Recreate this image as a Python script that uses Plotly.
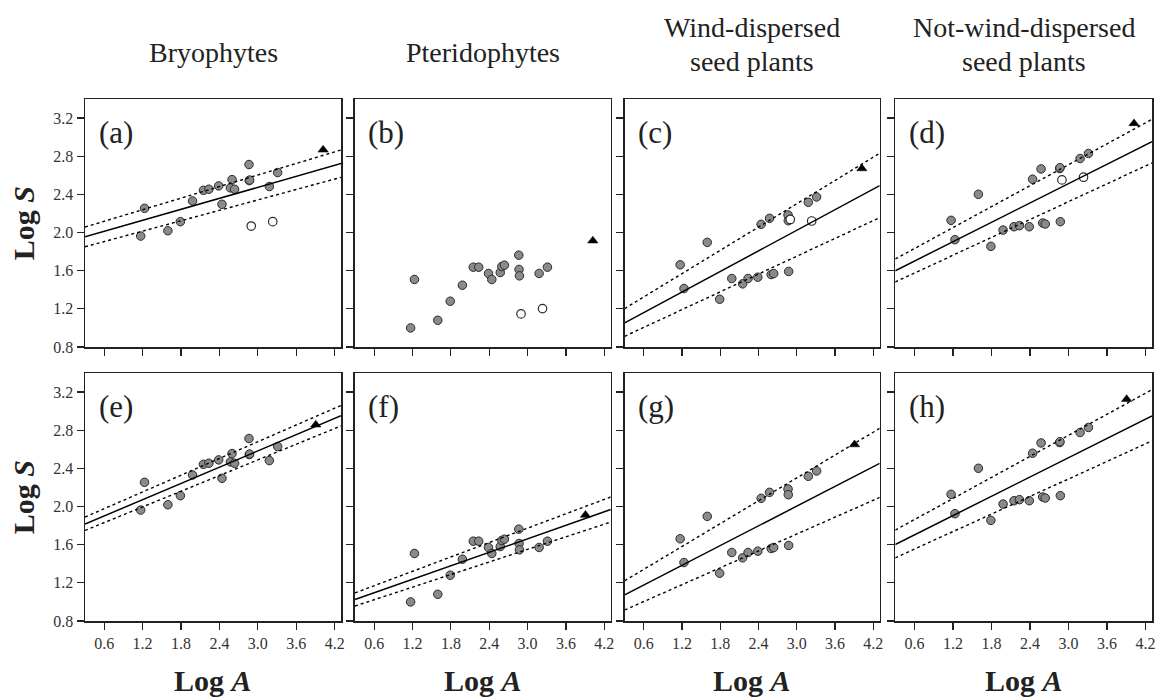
import numpy as np
import plotly.graph_objects as go

# ---------------- data ----------------
log_area = [1.17, 1.23, 1.595, 1.79, 1.98, 2.15, 2.235, 2.388, 2.44, 2.572,
            2.597, 2.637, 2.862, 2.866, 2.872, 3.18, 3.31]
bryo_S = [1.963, 2.254, 2.019, 2.114, 2.331, 2.443, 2.454, 2.489, 2.296, 2.468,
          2.555, 2.454, 2.713, 2.545, 2.55, 2.482, 2.629]
pter_S = [1.000, 1.508, 1.080, 1.280, 1.448, 1.637, 1.637, 1.571, 1.508, 1.581,
          1.644, 1.658, 1.763, 1.613, 1.546, 1.571, 1.637]
wind_S = [1.662, 1.413, 1.897, 1.301, 1.518, 1.462, 1.518, 1.532, 2.086, 2.149,
          1.560, 1.570, 2.184, 2.124, 1.592, 2.317, 2.373]
nonwind_S = [2.128, 1.925, 2.401, 1.855, 2.026, 2.061, 2.072, 2.061, 2.559, 2.667,
             2.100, 2.089, 2.671, 2.680, 2.114, 2.776, 2.829]

# open circles (excluded islands), top row only
open_area = [2.897, 3.233]
bryo_open = [2.068, 2.114]
pter_open = [1.147, 1.203]
wind_open = [2.137, 2.121]
nonwind_open = [2.552, 2.580]

# triangles (mainland)
tri_area_top = 4.02
tri_area_bottom = 3.905
tri_top_S = [2.867, 1.914, 2.671, 3.144]
tri_bottom_S = [2.857, 1.911, 2.650, 3.126]

# regression lines: (intercept, slope) for fit, upper, lower
lines = {
    "a": [(1.898, 0.192), (1.997, 0.202), (1.796, 0.182)],
    "b": None,
    "c": [(0.944, 0.360), (1.081, 0.407), (0.819, 0.311)],
    "d": [(1.498, 0.3385), (1.613, 0.366), (1.388, 0.312)],
    "e": [(1.731, 0.284), (1.802, 0.2925), (1.667, 0.274)],
    "f": [(0.954, 0.236), (1.019, 0.2515), (0.891, 0.220)],
    "g": [(0.971, 0.3445), (1.102, 0.3995), (0.827, 0.295)],
    "h": [(1.501, 0.337), (1.643, 0.368), (1.370, 0.3065)],
}

col_titles = [["Bryophytes"], ["Pteridophytes"],
              ["Wind-dispersed", "seed plants"], ["Not-wind-dispersed", "seed plants"]]
panel_letters = ["a", "b", "c", "d", "e", "f", "g", "h"]
x_ticks = [0.6, 1.2, 1.8, 2.4, 3.0, 3.6, 4.2]
y_ticks = [0.8, 1.2, 1.6, 2.0, 2.4, 2.8, 3.2]
x_range = [0.3, 4.3]
y_range = [0.8, 3.4]

# ---------------- layout geometry ----------------
W, H = 1161, 697
ML, MR, MT, MB = 85, 5, 99, 76
PW, PH = W - ML - MR, H - MT - MB
col_px = [(85, 342), (356, 612.7), (626.7, 882.7), (898.3, 1156)]
row_px = [(99, 347), (373, 621)]

FONT = "Liberation Serif"
GREY = "#8a8a8a"
EDGE = "#2a2a2a"

fig = go.Figure()
layout = dict(
    width=W, height=H, paper_bgcolor="white", plot_bgcolor="white",
    margin=dict(l=ML, r=MR, t=MT, b=MB), showlegend=False,
    font=dict(family=FONT, color="#222"),
)
annotations = []

series_top = [bryo_S, pter_S, wind_S, nonwind_S]
series_open = [bryo_open, pter_open, wind_open, nonwind_open]

idx = 0
for r in range(2):
    for c in range(4):
        idx += 1
        xa = "x" if idx == 1 else f"x{idx}"
        ya = "y" if idx == 1 else f"y{idx}"
        letter = panel_letters[idx - 1]
        x0, x1 = col_px[c]
        y0, y1 = row_px[r]
        xdom = [(x0 - ML) / PW, (x1 - ML) / PW]
        ydom = [(H - MB - y1) / PH, (H - MB - y0) / PH]
        # markers
        fig.add_trace(go.Scatter(
            x=log_area, y=series_top[c], mode="markers", xaxis=xa, yaxis=ya,
            marker=dict(size=8.5, color=GREY, line=dict(color=EDGE, width=1)),
            hoverinfo="skip"))
        if r == 0:
            fig.add_trace(go.Scatter(
                x=open_area, y=series_open[c], mode="markers", xaxis=xa, yaxis=ya,
                marker=dict(size=8.5, color="white", line=dict(color=EDGE, width=1.2)),
                hoverinfo="skip"))
            tx, ty = tri_area_top, tri_top_S[c]
        else:
            tx, ty = tri_area_bottom, tri_bottom_S[c]
        fig.add_trace(go.Scatter(
            x=[tx], y=[ty], mode="markers", xaxis=xa, yaxis=ya,
            marker=dict(size=9, symbol="triangle-up", color="black",
                        line=dict(color="black", width=0.5)),
            hoverinfo="skip"))
        # regression lines
        if lines[letter] is not None:
            xs = np.linspace(x_range[0], x_range[1], 2)
            for k, (a, b) in enumerate(lines[letter]):
                fig.add_trace(go.Scatter(
                    x=xs, y=a + b * xs, mode="lines", xaxis=xa, yaxis=ya,
                    line=dict(color="black", width=1.5 if k == 0 else 1.4,
                              dash="solid" if k == 0 else "dot"),
                    hoverinfo="skip"))
        axis_common = dict(showgrid=False, zeroline=False, showline=True,
                           linecolor="#222", linewidth=1.5, mirror=True,
                           ticks="outside", ticklen=7, tickwidth=1.2, tickcolor="#222",
                           tickfont=dict(family=FONT, size=16, color="#333"))
        layout["xaxis" if idx == 1 else f"xaxis{idx}"] = dict(
            domain=xdom, range=x_range, anchor=ya, tickvals=x_ticks,
            ticktext=[f"{v:.1f}" for v in x_ticks], showticklabels=(r == 1),
            **axis_common)
        layout["yaxis" if idx == 1 else f"yaxis{idx}"] = dict(
            domain=ydom, range=y_range, anchor=xa, tickvals=y_ticks,
            ticktext=[f"{v:.1f}" for v in y_ticks], showticklabels=(c == 0),
            **axis_common)
        annotations.append(dict(
            text=f"({letter})", xref=f"{xa} domain", yref=f"{ya} domain",
            x=0.045, y=0.865, xanchor="left", yanchor="middle", showarrow=False,
            font=dict(family=FONT, size=31, color="#222")))

# column titles
title_y_single = [53]
title_y_double = [28, 61]
for c, lines_t in enumerate(col_titles):
    xa = "x" if c == 0 else f"x{c + 1}"
    ys = title_y_single if len(lines_t) == 1 else title_y_double
    for t, ypx in zip(lines_t, ys):
        annotations.append(dict(
            text=t, xref=f"{xa} domain", yref="paper", x=0.5,
            y=(H - MB - ypx) / PH, xanchor="center", yanchor="middle",
            showarrow=False, font=dict(family=FONT, size=28, color="#222")))
    # x-axis title under bottom row
    xb = f"x{c + 5}"
    annotations.append(dict(
        text="<b>Log <i>A</i></b>", xref=f"{xb} domain", yref="paper", x=0.5,
        y=(H - MB - 680) / PH, xanchor="center", yanchor="middle",
        showarrow=False, font=dict(family=FONT, size=30, color="#222")))

# y-axis titles
for r in range(2):
    y0, y1 = row_px[r]
    annotations.append(dict(
        text="<b>Log <i>S</i></b>", xref="paper", yref="paper",
        x=(23 - ML) / PW, y=(H - MB - (y0 + y1) / 2) / PH,
        xanchor="center", yanchor="middle", textangle=-90, showarrow=False,
        font=dict(family=FONT, size=30, color="#222")))

layout["annotations"] = annotations
fig.update_layout(**layout)
fig.write_html(
    "out.html",
    config={"displayModeBar": False, "staticPlot": True},
    post_script="document.body.style.margin='0';document.body.style.padding='0';"
                "document.body.style.overflow='hidden';",
)
